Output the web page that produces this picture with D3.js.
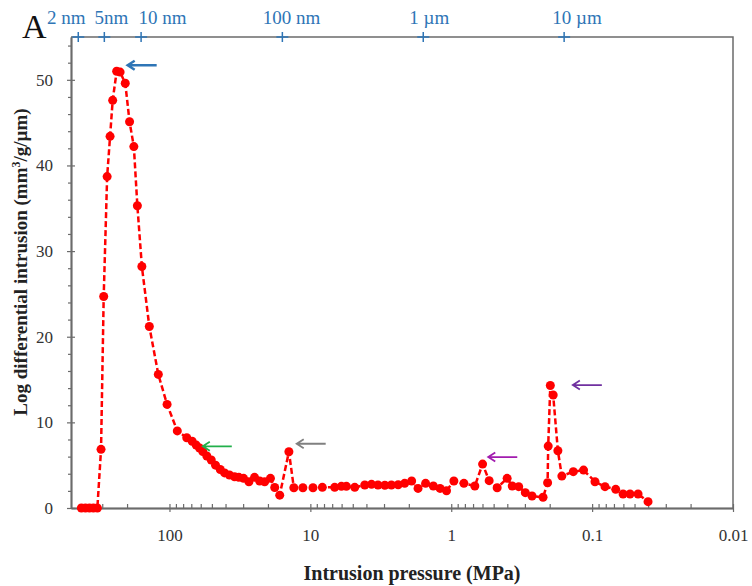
<!DOCTYPE html>
<html>
<head>
<meta charset="utf-8">
<script src="https://cdn.jsdelivr.net/npm/d3@7"></script>
<style>
  body { margin: 0; background: #fff; }
  svg { display: block; }
  text { font-family: "Liberation Serif", "Times New Roman", serif; }
</style>
</head>
<body>
<svg id="chart" width="752" height="586"></svg>
<script>
//intrusion pressure (MPa) of every measured point, high pressure first
const pressure = [422, 395, 370, 347, 325, 306, 293, 277, 264, 253, 237, 224, 206, 192, 179, 169, 157, 139, 120, 104,
    88, 75.4, 69.0, 64.6, 61.2, 58.0, 54.3, 50.5, 47.1, 43.6, 40.6, 37.5, 34.5, 32.2, 29.8, 27.3, 24.9, 22.9, 21.1, 19.2,
    17.9, 16.5, 14.2, 13.1, 11.3, 9.58, 8.22, 6.72, 6.02, 5.55, 4.84, 4.11, 3.68, 3.31, 2.96, 2.66, 2.38, 2.14, 1.91, 1.72,
    1.52, 1.34, 1.20, 1.08, 0.958, 0.813, 0.680, 0.599, 0.538, 0.472, 0.401, 0.369, 0.332, 0.298, 0.267, 0.223, 0.207, 0.205,
    0.198, 0.189, 0.175, 0.164, 0.136, 0.115, 0.0954, 0.0810, 0.0680, 0.0603, 0.0538, 0.0472, 0.0401];

//log differential intrusion (mm3/g/um)
const logDiff = [0, 0, 0, 0, 0, 6.85, 24.7, 38.7, 43.4, 47.6, 51.0, 50.9, 49.6, 45.1, 42.2, 35.3, 28.2, 21.2, 15.6, 12.1,
    9.0, 8.2, 7.8, 7.35, 7.0, 6.6, 6.07, 5.6, 5.0, 4.5, 4.1, 3.85, 3.65, 3.58, 3.46, 3.07, 3.58, 3.15, 3.07, 3.46,
    2.4, 1.5, 6.57, 2.37, 2.37, 2.37, 2.41, 2.41, 2.53, 2.53, 2.41, 2.68, 2.76, 2.68, 2.65, 2.68, 2.72, 2.88, 3.15, 2.29,
    2.88, 2.57, 2.29, 2.02, 3.15, 2.88, 2.57, 5.13, 3.19, 2.37, 3.46, 2.57, 2.49, 1.79, 1.40, 1.25, 2.95, 7.23,
    14.3, 13.2, 6.69, 3.73, 4.24, 4.43, 3.07, 2.49, 2.18, 1.63, 1.63, 1.63, 0.74];

//bottom axis labels and left axis labels
const xMajor = [100, 10, 1, 0.1, 0.01];
const xLabels = ["100", "10", "1", "0.1", "0.01"];
const yMajor = [0, 10, 20, 30, 40, 50];

//pore size axis on top: where the "+" sits and where its label sits (both in MPa)
const poreLabels = ["2 nm", "5nm", "10 nm", "100 nm", "1 \u00b5m", "10 \u00b5m"];
const poreTickP = [444, 290, 159, 15.8, 1.58, 0.158];
const poreLabelP = [540, 258, 112, 13.6, 1.43, 0.128];

//arrows pointing at the peaks: tip pressure, tip value, colour
const arrowP = [198, 58, 12.5, 0.546, 0.137];
const arrowV = [51.7, 7.2, 7.5, 5.95, 14.35];
const arrowColor = ["#2e75b6", "#22b04b", "#808080", "#a21caf", "#7030a0"];

const svg = d3.select("#chart");
const axisColor = "#6b6b6b";
const textColor = "#333";

const x = d3.scaleLog().domain([500, 0.01]).range([71, 733]);
const y = d3.scaleLinear().domain([0, 55]).range([508, 37]);

//frame: top and right edges
svg.append("path")
    .attr("d", `M${x.range()[0]},${y.range()[1]}H${x.range()[1]}V${y.range()[0]}`)
    .attr("fill", "none")
    .attr("stroke", axisColor)
    .attr("stroke-width", 1.5);

//minor ticks on the log axis: 2..9 of each decade
const xMinor = x.ticks().filter(v => {
    const m = v / Math.pow(10, Math.floor(Math.log10(v) + 1e-9));
    return Math.abs(m - 1) > 1e-6 && v < 500;
});

function styleAxis(g) {
    g.select(".domain").attr("stroke", axisColor).attr("stroke-width", 1.5);
    g.selectAll(".tick line").attr("stroke", axisColor).attr("stroke-width", 1.2);
    g.selectAll(".tick text")
        .attr("fill", textColor)
        .style("font-family", "'Liberation Serif', serif")
        .style("font-size", "17px");
}

//bottom axis
svg.append("g")
    .attr("transform", `translate(0,${y(0)})`)
    .call(d3.axisBottom(x).tickValues(xMajor).tickFormat((d, i) => xLabels[i]).tickSizeInner(4).tickSizeOuter(0).tickPadding(17))
    .call(styleAxis);
svg.append("g")
    .attr("transform", `translate(0,${y(0)})`)
    .call(d3.axisBottom(x).tickValues(xMajor).tickFormat("").tickSizeInner(-4).tickSizeOuter(0))
    .call(styleAxis);
svg.append("g")
    .attr("transform", `translate(0,${y(0)})`)
    .call(d3.axisBottom(x).tickValues(xMinor).tickFormat("").tickSizeInner(-4).tickSizeOuter(0))
    .call(styleAxis);

//left axis
svg.append("g")
    .attr("transform", `translate(${x.range()[0]},0)`)
    .call(d3.axisLeft(y).tickValues(yMajor).tickSizeInner(4).tickSizeOuter(0).tickPadding(14))
    .call(styleAxis);
svg.append("g")
    .attr("transform", `translate(${x.range()[0]},0)`)
    .call(d3.axisLeft(y).tickValues(yMajor).tickFormat("").tickSizeInner(-4).tickSizeOuter(0))
    .call(styleAxis);
svg.append("g")
    .attr("transform", `translate(${x.range()[0]},0)`)
    .call(d3.axisLeft(y).tickValues(d3.range(2, 55, 2).filter(v => v % 10 !== 0)).tickFormat("").tickSizeInner(3).tickSizeOuter(0))
    .call(styleAxis);

//top pore size "+" marks and labels
const poreColor = "#2e75b6";
const topY = y.range()[1];
poreTickP.forEach((p, i) => {
    svg.append("path")
        .attr("d", `M${x(p) - 6},${topY}H${x(p) + 6}M${x(p)},${topY - 5}V${topY + 5}`)
        .attr("stroke", poreColor)
        .attr("stroke-width", 1.5);
    svg.append("text")
        .attr("x", x(poreLabelP[i]))
        .attr("y", topY - 13)
        .attr("text-anchor", "middle")
        .attr("fill", poreColor)
        .style("font-size", "19px")
        .text(poreLabels[i]);
});

//dashed line and dots
const pts = pressure.map((p, i) => [p, logDiff[i]]);
svg.append("path")
    .datum(pts)
    .attr("d", d3.line().x(d => x(d[0])).y(d => y(d[1])))
    .attr("fill", "none")
    .attr("stroke", "#ff0000")
    .attr("stroke-width", 2.5)
    .attr("stroke-dasharray", "6,3");

svg.append("g")
    .selectAll("circle")
    .data(pts)
    .enter()
    .append("circle")
    .attr("cx", d => x(d[0]))
    .attr("cy", d => y(d[1]))
    .attr("r", 4.5)
    .attr("fill", "#ff0000");

//arrows
arrowP.forEach((p, i) => {
    const tx = x(p), ty = y(arrowV[i]);
    svg.append("path")
        .attr("d", `M${tx},${ty}H${tx + 29}M${tx + 7},${ty - 4.5}L${tx},${ty}L${tx + 7},${ty + 4.5}`)
        .attr("fill", "none")
        .attr("stroke", arrowColor[i])
        .attr("stroke-width", i === 0 ? 2.5 : 1.8);
});

//titles
svg.append("text")
    .attr("x", 412)
    .attr("y", 580)
    .attr("text-anchor", "middle")
    .attr("fill", "#222")
    .style("font-size", "20px")
    .style("font-weight", "bold")
    .text("Intrusion pressure (MPa)");

const yTitle = svg.append("text")
    .attr("transform", "translate(27,262) rotate(-90)")
    .attr("text-anchor", "middle")
    .attr("fill", "#222")
    .style("font-size", "19px")
    .style("font-weight", "bold");
yTitle.append("tspan").text("Log differential intrusion (mm");
yTitle.append("tspan").attr("dy", -7).style("font-size", "12px").text("3");
yTitle.append("tspan").attr("dy", 7).text("/g/\u00b5m)");

//panel letter
svg.append("text")
    .attr("x", 22)
    .attr("y", 38)
    .attr("fill", "#111")
    .style("font-size", "34px")
    .text("A");
</script>
</body>
</html>
